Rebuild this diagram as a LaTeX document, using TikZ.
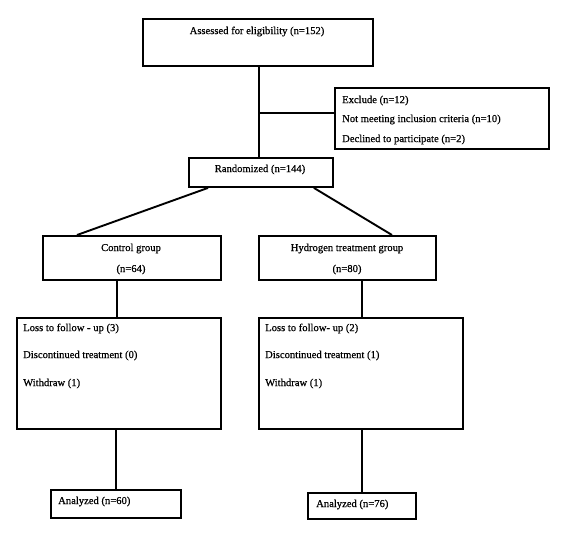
\documentclass[tikz,border=0pt]{standalone}
\usepackage{fontspec}
\setmainfont{Liberation Serif}[FakeBold=0.6]
\begin{document}
\begin{tikzpicture}[x=1pt,y=-1pt,
  box/.style={draw, line width=1.9pt, inner sep=0pt, anchor=north west},
  txt/.style={font=\fontsize{10.6}{12}\selectfont, inner sep=0pt, yshift=-1.5pt},
  ltxt/.style={txt, anchor=west},
  conn/.style={line width=1.9pt}]
\useasboundingbox (0,0) rectangle (564,547);
% boxes
\node[box, minimum width=230pt, minimum height=47pt] (top) at (142,18) {};
\node[box, minimum width=214pt, minimum height=61pt] (excl) at (334,87) {};
\node[box, minimum width=144pt, minimum height=29pt] (rand) at (188,157) {};
\node[box, minimum width=178pt, minimum height=44pt] (ctrl) at (42,235) {};
\node[box, minimum width=177pt, minimum height=44pt] (hyd) at (258,235) {};
\node[box, minimum width=204pt, minimum height=111pt] (lbig) at (16,317) {};
\node[box, minimum width=204pt, minimum height=111pt] (rbig) at (258,317) {};
\node[box, minimum width=130pt, minimum height=28pt] (lana) at (50,489) {};
\node[box, minimum width=108pt, minimum height=26pt] (rana) at (307,492) {};
% texts
\node[txt] (t1) at (257,30) {Assessed for eligibility (n=152)};
\node[ltxt] (e1) at (342,99) {Exclude (n=12)};
\node[ltxt] (e2) at (342,118) {Not meeting inclusion criteria (n=10)};
\node[ltxt] (e3) at (342,138) {Declined to participate (n=2)};
\node[txt] (r1) at (260,168) {Randomized (n=144)};
\node[txt] (c1) at (131,247) {Control group};
\node[txt] (c2) at (131,268) {(n=64)};
\node[txt] (h1) at (347,247) {Hydrogen treatment group};
\node[txt] (h2) at (347,268) {(n=80)};
\node[ltxt] (l1) at (23,327) {Loss to follow - up (3)};
\node[ltxt] (l2) at (23,354) {Discontinued treatment (0)};
\node[ltxt] (l3) at (23,382) {Withdraw (1)};
\node[ltxt] (q1) at (265,327) {Loss to follow- up (2)};
\node[ltxt] (q2) at (265,354) {Discontinued treatment (1)};
\node[ltxt] (q3) at (265,382) {Withdraw (1)};
\node[ltxt] (a1) at (58,500) {Analyzed (n=60)};
\node[ltxt] (a2) at (316,503) {Analyzed (n=76)};
% connectors
\coordinate (j) at (258,113);
\draw[conn] ([xshift=1pt]top.south) -- ([xshift=1pt]top.south |- rand.north);
\draw[conn] (j) -- (j -| excl.west);
\draw[conn] ([xshift=20pt]rand.south west) -- ([xshift=35pt]ctrl.north west);
\draw[conn] ([xshift=-20pt]rand.south east) -- ([xshift=134pt]hyd.north west);
\draw[conn] ([xshift=75pt]ctrl.south west) -- ([xshift=101pt]lbig.north west);
\draw[conn] ([xshift=104pt]hyd.south west) -- ([xshift=104pt]rbig.north west);
\draw[conn] (lana.north |- lbig.south) -- (lana.north);
\draw[conn] (rana.north |- rbig.south) -- (rana.north);
\end{tikzpicture}
\end{document}
